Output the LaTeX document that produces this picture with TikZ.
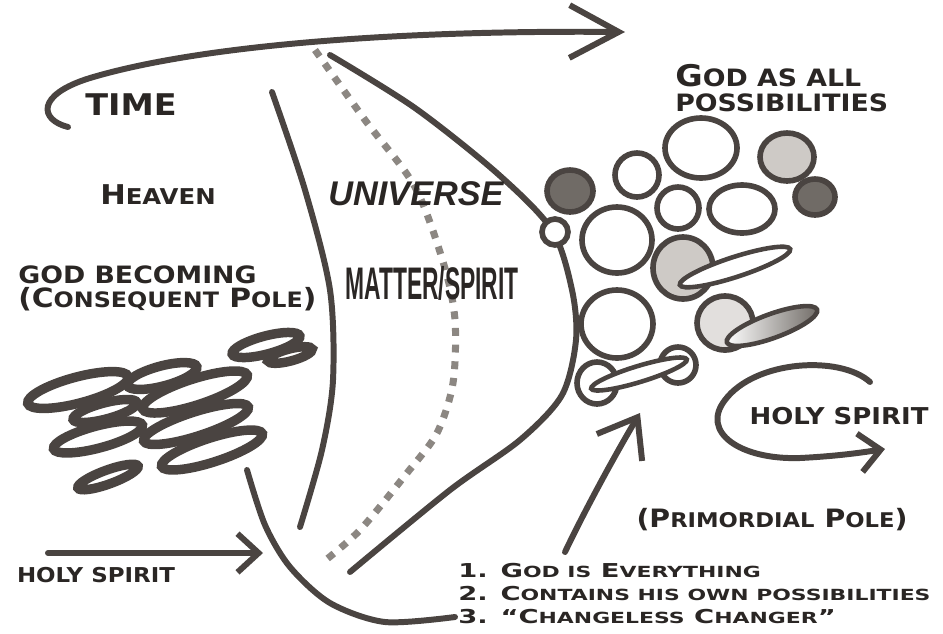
\documentclass[tikz,border=0pt]{standalone}
\usepackage{fontspec}
\usepackage{graphicx}
\usetikzlibrary{arrows.meta,positioning}
\newfontfamily\cpfont{DejaVu Sans}[FakeStretch=1.12]
\newfontfamily\listfont{DejaVu Sans}[FakeStretch=1.43]
\newfontfamily\arialfont{Liberation Sans}
\definecolor{ink}{RGB}{74,68,65}
\definecolor{textink}{RGB}{42,38,36}
\definecolor{dotgray}{RGB}{140,135,130}
\definecolor{darkfill}{RGB}{112,107,102}
\definecolor{lightfill}{RGB}{206,202,198}
\newcommand{\lowcap}[1]{\scalebox{0.8}{#1}}

\begin{document}
\begin{tikzpicture}[x=0.02cm, y=-0.02cm,
    stroke/.style={draw=ink, line width=3.4pt, line cap=round},
    ring/.style={draw=ink, line width=3.2pt},
    thinring/.style={draw=ink, line width=2.6pt},
    blob/.style={draw=ink, line width=5.4pt},
    bigbarb/.style={-{Straight Barb[length=28pt, width=30pt]}},
    midbarb/.style={-{Straight Barb[length=20pt, width=30pt]}},
    smallbarb/.style={-{Straight Barb[length=12pt, width=22pt]}},
    lbl/.style 2 args={text=textink, inner sep=0pt, font=\cpfont\bfseries\fontsize{#1}{#2}\selectfont}]
  \useasboundingbox (0,0) rectangle (943,633);

  % the three boundaries
  \draw[stroke] plot[smooth] coordinates {(272,92) (305,190) (330,290) (333,380) (322,450) (300,527)};
  \draw[dotgray, line width=4pt, dash pattern=on 4.5pt off 5pt]
    plot[smooth] coordinates {(315,50) (365,120) (415,187) (444,265) (455,320) (453,383) (437,433) (407,473) (360,530) (322,563)};
  \draw[stroke] plot[smooth] coordinates {(330,55) (415,108) (498,174) (552,230) (572,290) (576,340) (562,395) (520,440) (450,490) (350,572)};
  \draw[stroke] plot[smooth] coordinates {(247,470) (265,525) (290,567) (330,603) (385,622) (455,617)};

  % arrows
  \coordinate (timetail) at (68,127);
  \coordinate (timetip) at (625,32);
  \draw[stroke, bigbarb] (timetail) .. controls (40,120) and (35,95) .. (90,78)
    .. controls (200,45) and (400,30) .. (timetip);
  \coordinate (hstail) at (48,553);
  \coordinate (hstip) at (263,553);
  \draw[stroke, smallbarb] (hstail) -- (hstip);
  \coordinate (uptail) at (565,552);
  \coordinate (uptip) at (640,413);
  \draw[stroke, midbarb] (uptail) .. controls (585,510) and (615,455) .. (uptip);
  \coordinate (looptail) at (870,382);
  \coordinate (looptip) at (885,449);
  \draw[stroke, smallbarb] (looptail) .. controls (840,355) and (755,360) .. (725,400)
    .. controls (700,432) and (740,460) .. (800,458) .. controls (840,456) and (865,452) .. (looptip);

  % God as all possibilities
  \draw[ring, fill=white] (555,232) circle [radius=13];
  \foreach \cx/\cy/\rx/\ry/\fc in {701/148/36/30/white, 787/157/27/24/lightfill, 815/197/20/18/darkfill,
      570/191/23/21/darkfill, 637/175/22/22/white, 678/208/21/21/white, 742/209/33/24/white,
      617/240/35/33/white, 683/268/30/31/lightfill, 617/324/36/34/white, 725/323/28/27/lightfill!60,
      597/383/20/21/white, 678/365/18/18/white}
    \draw[ring, fill=\fc] (\cx,\cy) ellipse [x radius=\rx, y radius=\ry];
  \draw[thinring, fill=white] (735,267) ellipse [x radius=58, y radius=10, rotate=18];
  \draw[thinring, left color=white, middle color=darkfill, right color=darkfill]
    (772,326) ellipse [x radius=48, y radius=12, rotate=20];
  \draw[thinring, fill=white] (639,374) ellipse [x radius=50, y radius=8, rotate=17];

  % God becoming
  \foreach \cx/\cy/\a/\b/\r in {78/390/52/13/15, 162/376/36/10/15, 195/392/55/13/18, 105/411/33/8/15,
      98/437/46/11/15, 196/424/55/12/18, 212/450/53/12/18, 108/477/32/7/20, 266/345/35/9/15, 290/355/23/6/15}
    \draw[blob] (\cx,\cy) ellipse [x radius=\a, y radius=\b, rotate=\r];

  % labels
  \node[lbl={17}{20}] (time) at (131,105) {TIME};
  \node[lbl={15.5}{18}] (heaven) at (158,195) {H\lowcap{EAVEN}};
  \node[text=textink, inner sep=0pt, font=\arialfont\bfseries\itshape\fontsize{19.5}{22}\selectfont] (universe) at (416,194) {UNIVERSE};
  \node[text=textink, inner sep=0pt, font=\arialfont\bfseries\fontsize{26}{30}\selectfont] (matter) at (432,283) {\scalebox{0.5}[1]{MATTER/SPIRIT}};
  \node[lbl={17}{14.7}, align=left, anchor=west] (allposs) at (675,88) {G\lowcap{OD AS ALL}\\\lowcap{POSSIBILITIES}};
  \node[lbl={17}{13.6}, align=left, anchor=west] (becoming) at (18,288)
    {\lowcap{GOD BECOMING}\\{\fontsize{15.1}{13.6}\selectfont(C\lowcap{ONSEQUENT} P\lowcap{OLE})}};
  \node[lbl={11.65}{14}] (hsleft) at (96,575) {HOLY SPIRIT};
  \node[lbl={13.2}{16}] (hsright) at (839,416) {HOLY SPIRIT};
  \node[lbl={14.4}{17}] (primordial) at (772,520) {(P\lowcap{RIMORDIAL} P\lowcap{OLE})};
  \node[text=textink, inner sep=0pt, font=\listfont\bfseries\fontsize{10.9}{13}\selectfont, align=left, anchor=north west]
    (tenets) at (458,563) {1. G\lowcap{OD IS} E\lowcap{VERYTHING}\\2. C\lowcap{ONTAINS HIS OWN POSSIBILITIES}\\3. “C\lowcap{HANGELESS} C\lowcap{HANGER}”};
\end{tikzpicture}
\end{document}
